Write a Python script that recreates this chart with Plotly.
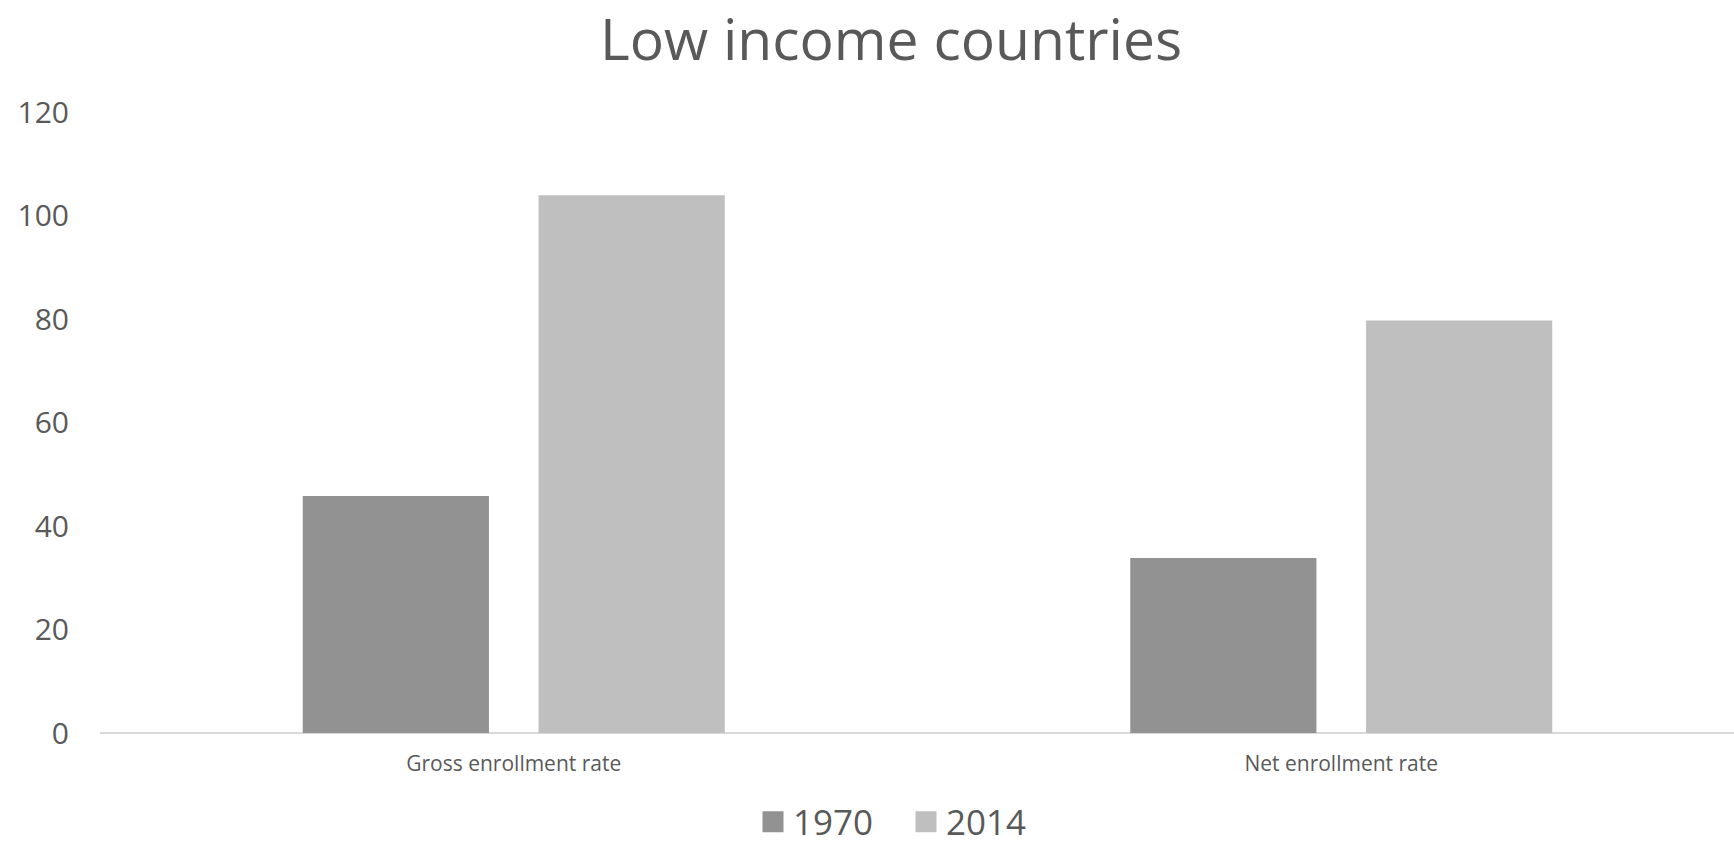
import plotly.graph_objects as go

categories = ["Gross enrollment rate", "Net enrollment rate"]
series_names = ["1970", "2014"]
values_1970 = [45.8, 33.8]
values_2014 = [103.9, 79.7]
y_ticks = [0, 20, 40, 60, 80, 100, 120]

colors = {"1970": "#929292", "2014": "#bfbfbf"}
text_color = "#595959"
font_family = "Open Sans, Noto Sans, sans-serif"

W, H = 1734, 845
ml, mr, mt, mb = 100, 0, 112, 112

fig = go.Figure()
bar_w = 0.225
gap_half = 0.03
for name, vals, off in [("1970", values_1970, -(bar_w + gap_half)), ("2014", values_2014, gap_half)]:
    fig.add_trace(go.Bar(
        x=categories, y=vals, name=name, width=bar_w, offset=off,
        marker=dict(color=colors[name], line=dict(width=0)),
        showlegend=False, hoverinfo="x+y+name",
    ))
    # legend proxy
    fig.add_trace(go.Scatter(
        x=[None], y=[None], mode="markers", name=name,
        marker=dict(symbol="square", size=22, color=colors[name],
                    line=dict(width=5, color=colors[name])),
        showlegend=True,
    ))

plot_w = W - ml - mr
unit_px = 827.5
x_right = -0.5 + plot_w / unit_px

fig.update_layout(
    width=W, height=H,
    margin=dict(l=ml, r=mr, t=mt, b=mb, pad=0, autoexpand=False),
    paper_bgcolor="white", plot_bgcolor="white",
    font=dict(family=font_family, color=text_color),
    title=dict(text="Low income countries", x=891 / W, xanchor="center",
               y=1 - 40 / H, yanchor="middle", yref="container",
               font=dict(size=57, color=text_color, family=font_family)),
    barmode="group",
    xaxis=dict(range=[-0.5, x_right], showgrid=False, zeroline=False,
               showline=False, ticks="", tickfont=dict(size=21, color=text_color),
               ticklabelstandoff=16, fixedrange=True),
    yaxis=dict(range=[0, 120], tickvals=y_ticks, showgrid=False,
               zeroline=True, zerolinecolor="#d9d9d9", zerolinewidth=2,
               showline=False, ticks="", tickfont=dict(size=30, color=text_color),
               ticklabelstandoff=30, fixedrange=True),
    legend=dict(orientation="h", x=(906 - ml) / plot_w, xanchor="center",
                y=1 - 822 / H, yanchor="middle", yref="container",
                font=dict(size=35, color=text_color, family=font_family),
                itemsizing="trace", entrywidth=108, bgcolor="rgba(0,0,0,0)"),
)

fig.write_html("out.html")
